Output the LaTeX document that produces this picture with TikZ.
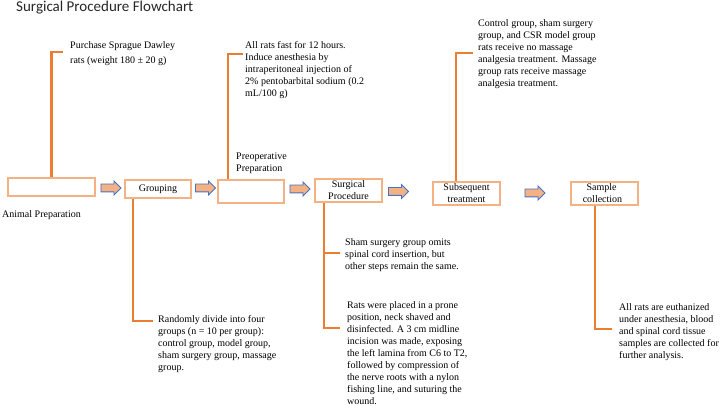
\documentclass[tikz,border=0pt]{standalone}
\usepackage{fontspec}
\setmainfont{Liberation Serif}
\newfontfamily\titlefont{Carlito}
\usepackage{xcolor}
\usepackage{tikz}
\usetikzlibrary{positioning, arrows.meta, shapes.arrows}

\definecolor{boxorange}{HTML}{F4B183}
\definecolor{lineorange}{HTML}{ED7D31}
\definecolor{arrowblue}{HTML}{4472C4}
\definecolor{titlegray}{HTML}{262626}

\begin{document}
\begin{tikzpicture}[x=1pt, y=-1pt, font=\fontsize{10}{12}\selectfont]
            % Define styles for the boxes, notes and arrows
            \tikzstyle{stagebox} = [draw=boxorange, line width=2pt, rectangle, minimum width=67pt, minimum height=23pt, inner sep=1pt, align=center]
            \tikzstyle{notetext} = [anchor=north west, inner sep=0pt, align=left]
            \tikzstyle{linkline} = [draw=lineorange, line width=2.5pt]
            \tikzstyle{flowarrow} = [single arrow, draw=arrowblue, fill=boxorange, line width=0.8pt, minimum height=20pt, minimum width=13pt, single arrow head extend=3pt, inner sep=3.5pt]

            \useasboundingbox (0,0) rectangle (720,406);

            % Title
            \node [anchor=base west, inner sep=0pt, text=titlegray, font=\titlefont\fontsize{15}{18}\selectfont] (title) at (16,12) {Surgical Procedure Flowchart};

            % Nodes for stages
            \node [stagebox, minimum width=87pt, minimum height=18pt] (animal) at (51.5,187) {};
            \node [stagebox, minimum width=66pt, minimum height=18pt] (grouping) at (158,189) {Grouping};
            \node [stagebox, minimum width=66pt] (preop) at (251,191.5) {};
            \node [stagebox] (surgical) at (348.5,190.5) {Surgical\\Procedure};
            \node [stagebox] (subsequent) at (466.5,193.5) {Subsequent\\treatment};
            \node [stagebox] (sample) at (604.5,193.5) {Sample\hspace*{6pt}\\collection\hspace*{4pt}};

            % Labels of the empty stages
            \node [anchor=west, inner sep=0pt] (animallabel) at (2,215) {Animal Preparation};
            \node [notetext] (preoplabel) at (236,153) {Preoperative\\Preparation};

            % Block arrows between the stages
            \node [flowarrow] (arr1) at (109,188) {};
            \node [flowarrow] (arr2) at (203.5,188) {};
            \node [flowarrow] (arr3) at (298,189) {};
            \node [flowarrow] (arr4) at (396.5,191.5) {};
            \node [flowarrow] (arr5) at (533,193) {};

            % Notes for the stages
            \node [notetext] (purchase) at (70,41) {Purchase Sprague Dawley\\[3pt]rats (weight 180 ± 20 g)};
            \node [notetext] (fasting) at (245,41) {All rats fast for 12 hours.\\Induce anesthesia by\\intraperitoneal injection of\\2\% pentobarbital sodium (0.2\\mL/100 g)};
            \node [notetext] (massage) at (478,19) {Control group, sham surgery\\group, and CSR model group\\rats receive no massage\\analgesia treatment. Massage\\group rats receive massage\\analgesia treatment.};
            \node [notetext] (random) at (158,315) {Randomly divide into four\\groups (n = 10 per group):\\control group, model group,\\sham surgery group, massage\\group.};
            \node [notetext] (sham) at (345,238) {Sham surgery group omits\\spinal cord insertion, but\\other steps remain the same.};
            \node [notetext] (prone) at (347,301) {Rats were placed in a prone\\position, neck shaved and\\disinfected. A 3 cm midline\\incision was made, exposing\\the left lamina from C6 to T2,\\followed by compression of\\the nerve roots with a nylon\\fishing line, and suturing the\\wound.};
            \node [notetext] (euthanasia) at (619,303) {All rats are euthanized\\under anesthesia, blood\\and spinal cord tissue\\samples are collected for\\further analysis.};

            % Ends of the bracket lines
            \coordinate (purchasetip) at (63,52);
            \coordinate (fastingtip) at (243,54);
            \coordinate (massagetip) at (473,53);
            \coordinate (randomtip) at (153,321);
            \coordinate (shamtip) at (340,253);
            \coordinate (pronetip) at (340,328);
            \coordinate (euthanasiatip) at (612,329);

            % Bracket lines from the stages to their notes
            \draw [linkline] (animal.north) |- (purchasetip);
            \draw [linkline] ([xshift=-23pt]preop.north) |- (fastingtip);
            \draw [linkline] ([xshift=-10.5pt]subsequent.north) |- (massagetip);
            \draw [linkline] ([xshift=-25pt]grouping.south) |- (randomtip);
            \draw [linkline] ([xshift=-24.5pt]surgical.south) |- (shamtip);
            \draw [linkline] ([xshift=-24.5pt]surgical.south) |- (pronetip);
            \draw [linkline] ([xshift=-9.5pt]sample.south) |- (euthanasiatip);
        \end{tikzpicture}
\end{document}
